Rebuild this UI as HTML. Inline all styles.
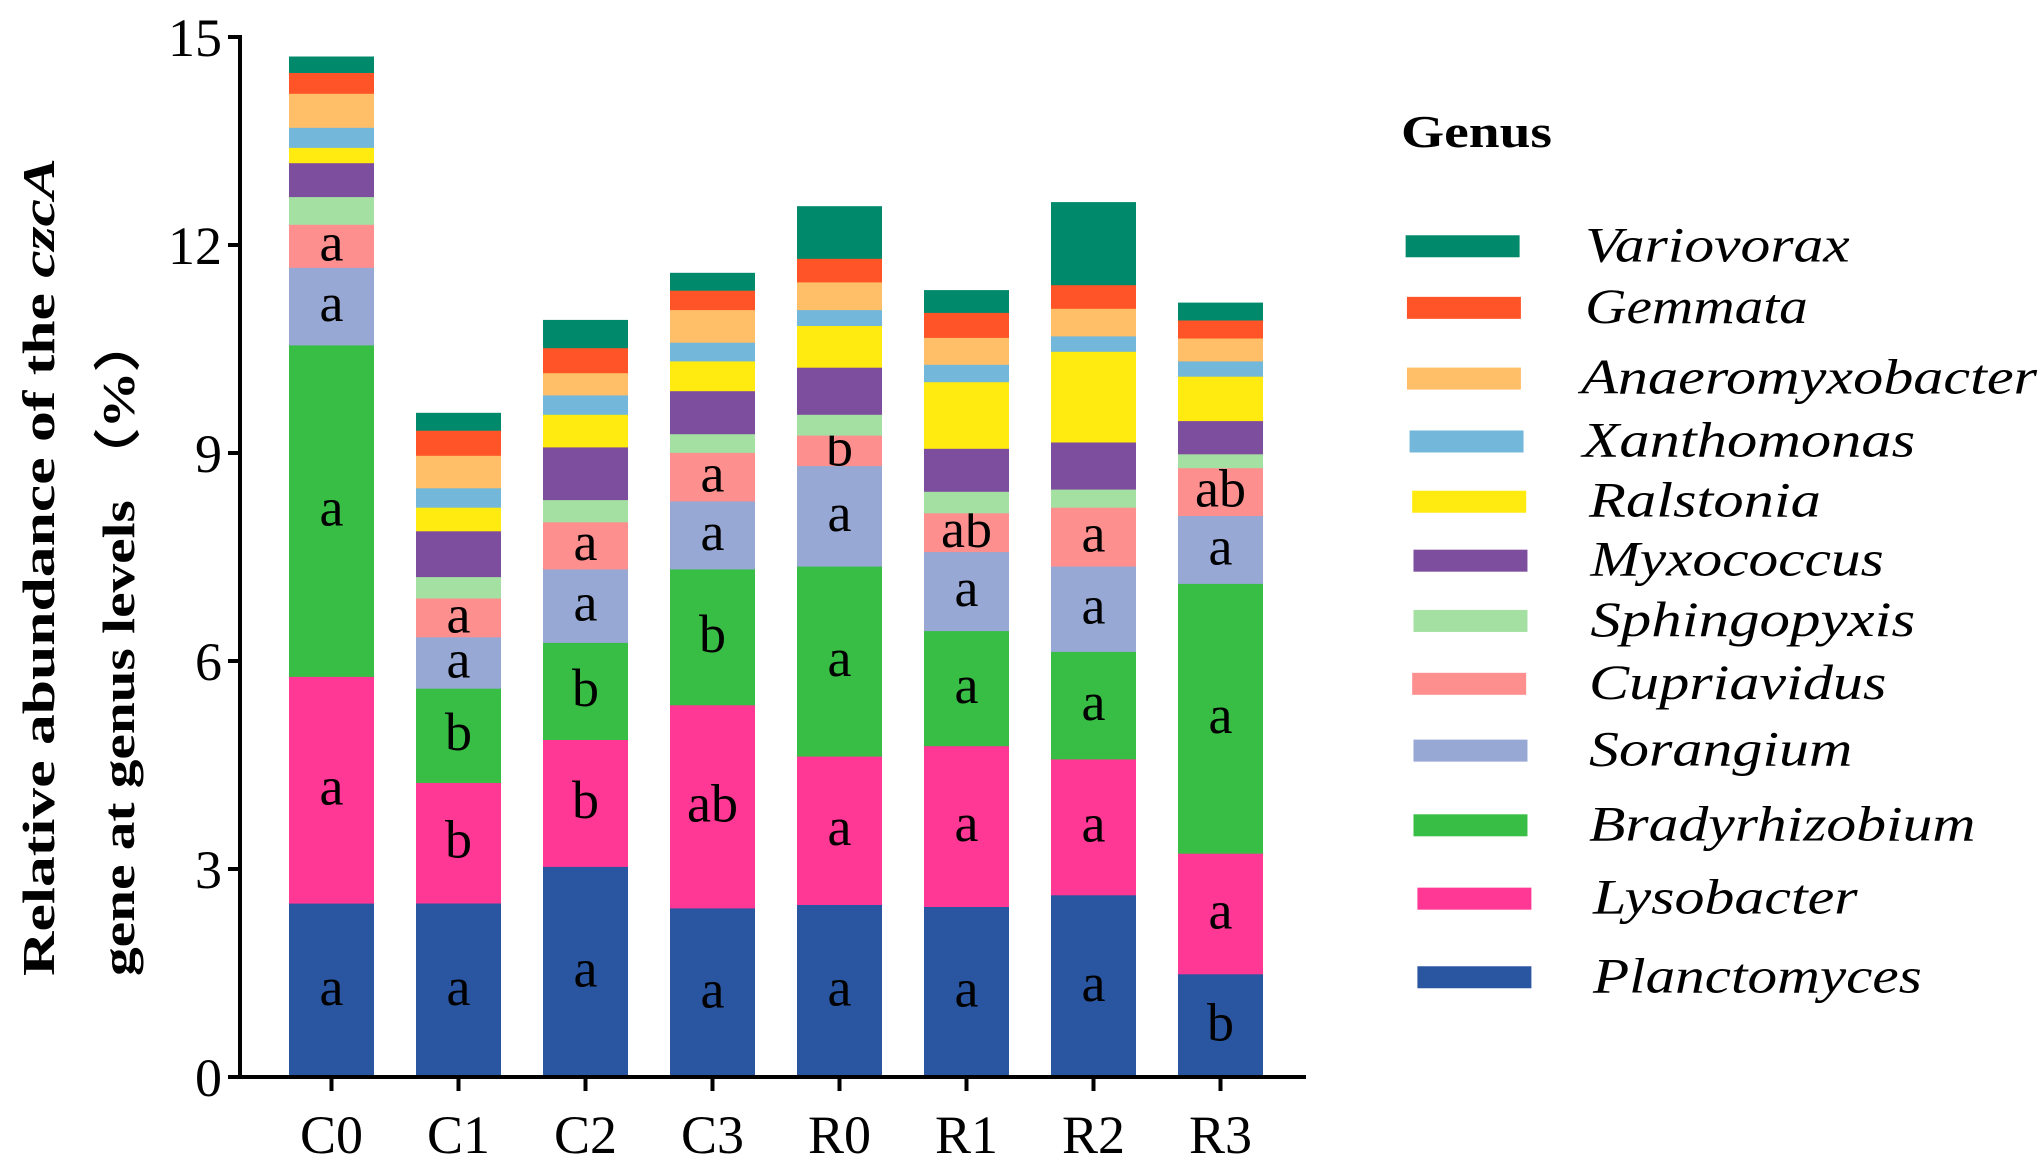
<!DOCTYPE html>
<html><head><meta charset="utf-8"><style>
html,body{margin:0;padding:0;background:#fff;width:2043px;height:1163px;overflow:hidden}
svg{display:block}
</style></head><body>
<svg id="s" width="2043" height="1163" viewBox="0 0 2043 1163" xmlns="http://www.w3.org/2000/svg" font-family="'Liberation Serif',serif">
<g id="bars"></g>
<line x1="240" y1="35" x2="240" y2="1079" stroke="#000" stroke-width="4"/>
<line x1="238" y1="1077" x2="1306" y2="1077" stroke="#000" stroke-width="4"/>
<g stroke="#000" stroke-width="4">
<line x1="228" y1="37" x2="240" y2="37"/><line x1="228" y1="245" x2="240" y2="245"/><line x1="228" y1="453" x2="240" y2="453"/><line x1="228" y1="661" x2="240" y2="661"/><line x1="228" y1="869" x2="240" y2="869"/><line x1="228" y1="1077" x2="240" y2="1077"/>
</g>
<g font-size="54" text-anchor="end" fill="#000">
<text x="222" y="56">15</text><text x="222" y="264">12</text><text x="222" y="472">9</text><text x="222" y="680">6</text><text x="222" y="888">3</text><text x="222" y="1096">0</text>
</g>
<g id="xl" font-size="54" text-anchor="middle"></g>
<g font-weight="bold" font-size="46" fill="#000">
<text transform="translate(54,976) rotate(-90)" textLength="818" lengthAdjust="spacingAndGlyphs">Relative abundance of the <tspan font-style="italic">czcA</tspan></text>
<text transform="translate(134,976) rotate(-90)" textLength="662" lengthAdjust="spacingAndGlyphs">gene at genus levels （%）</text>
</g>
<text x="1401" y="147" font-weight="bold" font-size="46" textLength="151" lengthAdjust="spacingAndGlyphs">Genus</text>
<g id="leg" font-style="italic" font-size="50"></g>
</svg>
<script>
var cols=["#2a55a0","#ff3795","#38bd45","#97a8d4","#fd8f8f","#a4e0a2","#7e4e9e","#ffeb0f","#73b8da","#ffbf68","#ff5427","#00896b"];
var data=[
[2.51,5.78,10.56,11.68,12.3,12.7,13.19,13.41,13.7,14.19,14.49,14.72],
[2.51,4.25,5.61,6.35,6.91,7.22,7.88,8.22,8.5,8.97,9.33,9.58],
[3.04,4.87,6.27,7.33,8.01,8.33,9.09,9.56,9.84,10.16,10.52,10.92],
[2.44,5.37,7.33,8.31,9.01,9.28,9.9,10.33,10.6,11.07,11.35,11.6],
[2.49,4.63,7.37,8.82,9.26,9.56,10.24,10.84,11.07,11.47,11.81,12.56],
[2.46,4.78,6.44,7.58,8.14,8.45,9.07,10.03,10.28,10.67,11.03,11.35],
[2.63,4.59,6.14,7.37,8.22,8.48,9.16,10.47,10.69,11.09,11.43,12.62],
[1.49,3.23,7.12,8.1,8.79,8.99,9.47,10.11,10.33,10.66,10.92,11.17]];
var let=[["a","a","a","a","a"],["a","b","b","a","a"],["a","b","b","a","a"],["a","ab","b","a","a"],["a","a","a","a","b"],["a","a","a","a","ab"],["a","a","a","a","a"],["b","a","a","a","ab"]];
var names=["C0","C1","C2","C3","R0","R1","R2","R3"];
function Y(v){return 1077-v*69.33;}
var h="",xl="";
for(var i=0;i<8;i++){var x=289+i*127,prev=0;
 for(var j=0;j<12;j++){var v=data[i][j];h+='<rect x="'+x+'" y="'+Y(v).toFixed(1)+'" width="85" height="'+((v-prev)*69.33+0.6).toFixed(1)+'" fill="'+cols[j]+'"/>';
  if(j<5){var cy=(Y(v)+Y(prev))/2;h+='<text x="'+(x+42.5)+'" y="'+(cy+15).toFixed(1)+'" font-size="54" text-anchor="middle">'+let[i][j]+'</text>';}
  prev=v;}
 xl+='<text x="'+(x+42.5)+'" y="1153">'+names[i]+'</text>';
 h+='<line x1="'+(x+42.5)+'" y1="1077" x2="'+(x+42.5)+'" y2="1091" stroke="#000" stroke-width="4"/>';
}
document.getElementById("bars").innerHTML=h;
document.getElementById("xl").innerHTML=xl;
var L=[["Variovorax",188,1210,202,1073],["Gemmata",235,1210,170,1074],["Anaeromyxobacter",289,1207,348,1074],["Xanthomonas",337,1208,254,1076],["Ralstonia",383,1213,177,1078],["Myxococcus",428,1214,224,1079],["Sphingopyxis",474,1214,248,1079],["Cupriavidus",522,1213,227,1078],["Sorangium",573,1213,201,1079],["Bradyrhizobium",630,1213,295,1079],["Lysobacter",686,1216,202,1082],["Planctomyces",746,1216,251,1082]];
var lg="";
for(var k=0;k<12;k++){var e=L[k],c=cols[11-k],cy=e[1]*1.31;
 lg+='<rect x="'+(e[4]*1.31)+'" y="'+(cy-11)+'" width="'+(87*1.31)+'" height="22" fill="'+c+'"/>';
 lg+='<text x="'+(e[2]*1.31)+'" y="'+(cy+15)+'" textLength="'+(e[3]*1.31)+'" lengthAdjust="spacingAndGlyphs">'+e[0]+'</text>';}
document.getElementById("leg").innerHTML=lg;
</script>
</body></html>
